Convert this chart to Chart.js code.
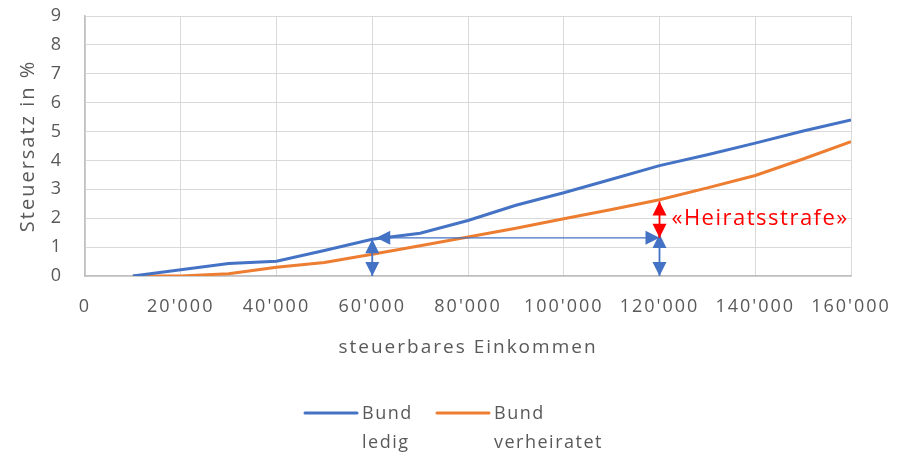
<!DOCTYPE html>
<html>
<head>
<meta charset="utf-8">
<script src="https://cdn.jsdelivr.net/npm/chart.js@4/dist/chart.umd.min.js"></script>
<style>
  html, body { margin: 0; padding: 0; background: #ffffff; }
  canvas { display: block; }
</style>
</head>
<body>
<canvas id="chart" width="901" height="453"></canvas>
<script>
// Taxable income (CHF) and federal tax rate (%) per household type
const incomes = [10000, 20000, 30000, 40000, 50000, 60000, 70000, 80000,
                 90000, 100000, 110000, 120000, 130000, 140000, 150000, 160000];
const rateSingle = [0, 0.22, 0.43, 0.51, 0.88, 1.27, 1.48, 1.92,
                    2.45, 2.88, 3.35, 3.82, 4.2, 4.6, 5.02, 5.4];
const rateMarried = [0, 0, 0.08, 0.3, 0.47, 0.75, 1.05, 1.35,
                     1.65, 1.98, 2.3, 2.64, 3.05, 3.48, 4.05, 4.65];

const seriesNames = [['Bund', 'ledig'], ['Bund', 'verheiratet']];
const xTicks = [0, 20000, 40000, 60000, 80000, 100000, 120000, 140000, 160000];
const yTicks = [0, 1, 2, 3, 4, 5, 6, 7, 8, 9];

// Comparison markers: single income vs. doubled married income
const compareIncomes = [60000, 120000];
const compareLevel = 1.32;
const rightMarkerTop = 1.45;
const penaltyRange = [1.32, 2.58];
const penaltyLabel = '«Heiratsstrafe»';
const penaltyLabelLevel = 1.98;

const BLUE = '#4472C4';
const ORANGE = '#ED7D31';
const RED = '#FF0000';
const TEXT = '#595959';
const FONT = "'Open Sans', sans-serif";
const SPACING = '2px';

function fmtThousands(v) {
  return String(v).replace(/\B(?=(\d{3})+(?!\d))/g, "'");
}

function toPoints(xs, ys) {
  return xs.map((x, i) => ({ x: x, y: ys[i] }));
}

function arrowHead(ctx, tx, ty, dx, dy, len, half) {
  const n = Math.hypot(dx, dy) || 1;
  const ux = dx / n, uy = dy / n;
  const bx = tx - ux * len, by = ty - uy * len;
  ctx.beginPath();
  ctx.moveTo(tx, ty);
  ctx.lineTo(bx - uy * half, by + ux * half);
  ctx.lineTo(bx + uy * half, by - ux * half);
  ctx.closePath();
  ctx.fill();
}

function doubleArrow(ctx, x1, y1, x2, y2, color, width) {
  ctx.save();
  ctx.strokeStyle = color;
  ctx.fillStyle = color;
  ctx.lineWidth = width;
  ctx.beginPath();
  ctx.moveTo(x1, y1);
  ctx.lineTo(x2, y2);
  ctx.stroke();
  arrowHead(ctx, x1, y1, x1 - x2, y1 - y2, 14, 7);
  arrowHead(ctx, x2, y2, x2 - x1, y2 - y1, 14, 7);
  ctx.restore();
}

// Slightly wider text spacing for all labels
const spacingPlugin = {
  id: 'textSpacing',
  beforeUpdate(chart) { chart.ctx.letterSpacing = SPACING; },
  beforeDraw(chart) { chart.ctx.letterSpacing = SPACING; }
};

const markersPlugin = {
  id: 'markers',
  afterDatasetsDraw(chart) {
    const ctx = chart.ctx;
    const xs = chart.scales.x, ys = chart.scales.y;
    const xa = xs.getPixelForValue(compareIncomes[0]);
    const xb = xs.getPixelForValue(compareIncomes[1]);
    const y0 = ys.getPixelForValue(0);
    const yLevel = ys.getPixelForValue(compareLevel);
    const singleAtA = rateSingle[incomes.indexOf(compareIncomes[0])];

    doubleArrow(ctx, xa, y0, xa, ys.getPixelForValue(singleAtA), BLUE, 1.8);
    doubleArrow(ctx, xb, y0, xb, ys.getPixelForValue(rightMarkerTop), BLUE, 1.8);
    doubleArrow(ctx, xa + 4, yLevel, xb, yLevel, BLUE, 1.2);
    doubleArrow(ctx, xb, ys.getPixelForValue(penaltyRange[0]),
                xb, ys.getPixelForValue(penaltyRange[1]), RED, 1.8);

    ctx.save();
    ctx.fillStyle = RED;
    ctx.font = '22px ' + FONT;
    ctx.letterSpacing = '1.5px';
    ctx.textAlign = 'left';
    ctx.textBaseline = 'middle';
    ctx.fillText(penaltyLabel, xb + 12, ys.getPixelForValue(penaltyLabelLevel));
    ctx.restore();
  }
};

const legendPlugin = {
  id: 'twoLineLegend',
  afterDraw(chart) {
    const ctx = chart.ctx;
    const colors = [BLUE, ORANGE];
    const starts = [305, 437];
    const lineY = 413;
    ctx.save();
    ctx.font = '18px ' + FONT;
    ctx.letterSpacing = '1.5px';
    ctx.fillStyle = TEXT;
    ctx.textAlign = 'left';
    ctx.textBaseline = 'middle';
    seriesNames.forEach((lines, i) => {
      ctx.strokeStyle = colors[i];
      ctx.lineWidth = 3;
      ctx.lineCap = 'round';
      ctx.beginPath();
      ctx.moveTo(starts[i], lineY);
      ctx.lineTo(starts[i] + 52, lineY);
      ctx.stroke();
      lines.forEach((t, j) => {
        ctx.fillText(t, starts[i] + 57, lineY + 1 + j * 29);
      });
    });
    ctx.restore();
  }
};

new Chart(document.getElementById('chart'), {
  type: 'line',
  data: {
    datasets: [
      {
        label: seriesNames[0].join(' '),
        data: toPoints(incomes, rateSingle),
        borderColor: BLUE,
        borderWidth: 3,
        pointRadius: 0,
        tension: 0,
        fill: false
      },
      {
        label: seriesNames[1].join(' '),
        data: toPoints(incomes, rateMarried),
        borderColor: ORANGE,
        borderWidth: 3,
        pointRadius: 0,
        tension: 0,
        fill: false
      }
    ]
  },
  options: {
    responsive: false,
    animation: false,
    devicePixelRatio: 1,
    layout: { padding: { top: 16, right: 50, bottom: 93, left: 0 } },
    plugins: {
      legend: { display: false },
      tooltip: { enabled: false }
    },
    scales: {
      x: {
        type: 'linear',
        min: xTicks[0],
        max: xTicks[xTicks.length - 1],
        afterBuildTicks(scale) { scale.ticks = xTicks.map(v => ({ value: v })); },
        afterFit(scale) {
          scale.height = 84;
          scale.paddingLeft = 0;
          scale.paddingRight = 0;
        },
        grid: { color: '#d9d9d9', lineWidth: 1, drawTicks: false },
        border: { color: '#bfbfbf', width: 1.5 },
        ticks: {
          padding: 20,
          color: TEXT,
          font: { family: FONT, size: 18 },
          maxRotation: 0,
          callback: v => fmtThousands(v)
        },
        title: {
          display: true,
          text: 'steuerbares Einkommen',
          color: TEXT,
          font: { family: FONT, size: 19 },
          padding: { top: 0, bottom: 1 }
        }
      },
      y: {
        min: yTicks[0],
        max: yTicks[yTicks.length - 1],
        afterBuildTicks(scale) { scale.ticks = yTicks.map(v => ({ value: v })); },
        afterFit(scale) {
          scale.width = 85;
          scale.paddingTop = 0;
          scale.paddingBottom = 0;
        },
        grid: { color: '#d9d9d9', lineWidth: 1, drawTicks: false },
        border: { color: '#bfbfbf', width: 1.5 },
        ticks: {
          padding: 22,
          color: TEXT,
          font: { family: FONT, size: 18 }
        },
        title: {
          display: true,
          text: 'Steuersatz in %',
          color: TEXT,
          font: { family: FONT, size: 20 },
          padding: { top: 16, bottom: 0 }
        }
      }
    }
  },
  plugins: [spacingPlugin, markersPlugin, legendPlugin]
});
</script>
</body>
</html>
